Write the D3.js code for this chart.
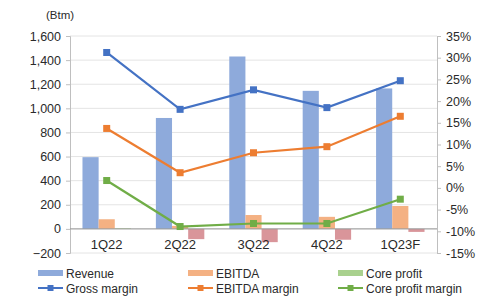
<!DOCTYPE html>
<html>
<head>
<meta charset="utf-8">
<script src="https://cdn.jsdelivr.net/npm/d3@7"></script>
<style>
  body { margin: 0; background: #fff; }
  text { font-family: "Liberation Sans", Arial, sans-serif; fill: #2a2a2a; }
</style>
</head>
<body>
<div id="vis"></div>
<script>
// values
var quarters = ["1Q22", "2Q22", "3Q22", "4Q22", "1Q23F"];
var revenue = [595, 920, 1430, 1145, 1165];
var ebitda = [80, 25, 115, 100, 190];
var coreProfit = [5, -85, -110, -90, -25];
var grossMargin = [31.2, 18.1, 22.6, 18.5, 24.7];
var ebitdaMargin = [13.7, 3.5, 8.1, 9.5, 16.5];
var coreMargin = [1.7, -8.9, -8.2, -8.2, -2.6];
var leftTicks = [-200, 0, 200, 400, 600, 800, 1000, 1200, 1400, 1600];
var rightTicks = [-15, -10, -5, 0, 5, 10, 15, 20, 25, 30, 35];

var w = 491, h = 300;
var x0 = 70, x1 = 437, yTop = 36, yBot = 253;

var svg = d3.select("#vis").append("svg")
    .attr("width", w)
    .attr("height", h);

var x = d3.scaleBand().domain(quarters).range([x0, x1]).paddingInner(0.34).paddingOuter(0.17);
var xs = d3.scaleBand().domain(["rev", "ebitda", "core"]).range([0, x.bandwidth()]);
var yL = d3.scaleLinear().domain([-200, 1600]).range([yBot, yTop]);
var yR = d3.scaleLinear().domain([-15, 35]).range([yBot, yTop]);

// gridlines
svg.append("g").selectAll("line")
    .data(leftTicks)
    .enter().append("line")
    .attr("x1", x0).attr("x2", x1)
    .attr("y1", function(d) { return yL(d); })
    .attr("y2", function(d) { return yL(d); })
    .attr("stroke", "#e4e4e4");

// left axis
var axL = svg.append("g")
    .attr("transform", "translate(" + x0 + ",0)")
    .call(d3.axisLeft(yL).tickValues(leftTicks).tickSize(4).tickPadding(5).tickFormat(d3.format(",")));
axL.select(".domain").attr("stroke", "#bfbfbf");
axL.selectAll(".tick line").attr("stroke", "#bfbfbf");
axL.selectAll("text").style("font-size", "12.5px").attr("fill", "#2a2a2a");

// right axis
var axR = svg.append("g")
    .attr("transform", "translate(" + x1 + ",0)")
    .call(d3.axisRight(yR).tickValues(rightTicks).tickSize(4).tickPadding(5).tickFormat(function(d) { return d + "%"; }));
axR.select(".domain").attr("stroke", "#bfbfbf");
axR.selectAll(".tick line").attr("stroke", "#bfbfbf");
axR.selectAll("text").style("font-size", "12.5px").attr("fill", "#2a2a2a");

svg.append("text")
    .attr("x", 46).attr("y", 19)
    .style("font-size", "11.5px")
    .text("(Btm)");

// bars
var series = [
    { key: "rev", vals: revenue, color: "#8eaadb", neg: "#8eaadb" },
    { key: "ebitda", vals: ebitda, color: "#f4b183", neg: "#f4b183" },
    { key: "core", vals: coreProfit, color: "#a9d18e", neg: "#d9959a" }
];
series.forEach(function(s) {
    svg.append("g").selectAll("rect")
        .data(s.vals)
        .enter().append("rect")
        .attr("x", function(d, i) { return x(quarters[i]) + xs(s.key); })
        .attr("width", xs.bandwidth())
        .attr("y", function(d) { return yL(Math.max(0, d)); })
        .attr("height", function(d) { return Math.abs(yL(d) - yL(0)); })
        .attr("fill", function(d) { return d < 0 ? s.neg : s.color; });
});

// zero line
svg.append("line")
    .attr("x1", x0).attr("x2", x1)
    .attr("y1", yL(0)).attr("y2", yL(0))
    .attr("stroke", "#999");

// category labels
svg.append("g").selectAll("text")
    .data(quarters)
    .enter().append("text")
    .attr("x", function(d) { return x(d) + x.bandwidth() / 2; })
    .attr("y", yL(0) + 20)
    .attr("text-anchor", "middle")
    .style("font-size", "13px")
    .text(function(d) { return d; });

// lines
var lines = [
    { vals: grossMargin, color: "#4472c4" },
    { vals: ebitdaMargin, color: "#ed7d31" },
    { vals: coreMargin, color: "#70ad47" }
];
var cx = function(i) { return x(quarters[i]) + x.bandwidth() / 2; };
lines.forEach(function(l) {
    var line = d3.line()
        .x(function(d, i) { return cx(i); })
        .y(function(d) { return yR(d); });
    svg.append("path")
        .datum(l.vals)
        .attr("d", line)
        .attr("fill", "none")
        .attr("stroke", l.color)
        .attr("stroke-width", 2.2);
    svg.append("g").selectAll("rect")
        .data(l.vals)
        .enter().append("rect")
        .attr("x", function(d, i) { return cx(i) - 3.5; })
        .attr("y", function(d) { return yR(d) - 3.5; })
        .attr("width", 7).attr("height", 7)
        .attr("fill", l.color);
});

// legend
var legend = [
    { label: "Revenue", color: "#8eaadb", type: "bar", col: 0, row: 0 },
    { label: "EBITDA", color: "#f4b183", type: "bar", col: 1, row: 0 },
    { label: "Core profit", color: "#a9d18e", type: "bar", col: 2, row: 0 },
    { label: "Gross margin", color: "#4472c4", type: "line", col: 0, row: 1 },
    { label: "EBITDA margin", color: "#ed7d31", type: "line", col: 1, row: 1 },
    { label: "Core profit margin", color: "#70ad47", type: "line", col: 2, row: 1 }
];
var colX = [38, 188, 338], rowY = [273, 288];
legend.forEach(function(d) {
    var lx = colX[d.col], ly = rowY[d.row];
    var g = svg.append("g");
    if (d.type == "bar") {
        g.append("rect").attr("x", lx).attr("y", ly - 3).attr("width", 25).attr("height", 6).attr("fill", d.color);
    } else {
        g.append("line").attr("x1", lx).attr("x2", lx + 25).attr("y1", ly).attr("y2", ly)
            .attr("stroke", d.color).attr("stroke-width", 2);
        g.append("rect").attr("x", lx + 9.5).attr("y", ly - 3).attr("width", 6).attr("height", 6).attr("fill", d.color);
    }
    g.append("text").attr("x", lx + 28).attr("y", ly + 4.5)
        .style("font-size", "12px")
        .text(d.label);
});
</script>
</body>
</html>
